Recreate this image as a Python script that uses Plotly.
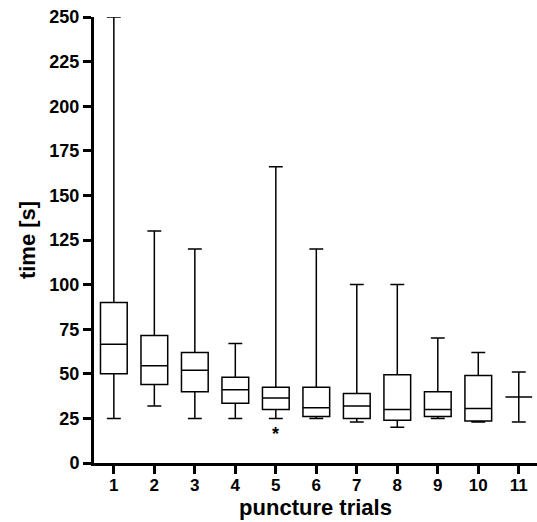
import plotly.graph_objects as go

trials = [1, 2, 3, 4, 5, 6, 7, 8, 9, 10, 11]
q1 = [50, 44, 40, 33.5, 30, 26, 25, 24, 26, 23.5, 37]
median = [66.5, 54.5, 52, 41, 36.5, 31, 32, 30, 30, 30.5, 37]
q3 = [90, 71.5, 62, 48, 42.5, 42.5, 39, 49.5, 40, 49, 37]
lower = [25, 32, 25, 25, 25, 25, 23, 20, 25, 23, 23]
upper = [250, 130, 120, 67, 166, 120, 100, 100, 70, 62, 51]
star_trial = 5
star_value = 16.5
ytick_vals = [0, 25, 50, 75, 100, 125, 150, 175, 200, 225, 250]

FONT = "Liberation Sans, Arial, Helvetica, sans-serif"

fig = go.Figure()
fig.add_trace(go.Box(
    x=trials, q1=q1, median=median, q3=q3,
    lowerfence=lower, upperfence=upper,
    width=0.66, whiskerwidth=0.52,
    fillcolor="white", line=dict(color="black", width=1.5),
    boxpoints=False, hoverinfo="skip", showlegend=False,
))

fig.add_annotation(x=star_trial, y=star_value, text="<b>*</b>", showarrow=False,
                   font=dict(family=FONT, size=18, color="black"),
                   xanchor="center", yanchor="middle")

fig.update_layout(
    width=537, height=522,
    margin=dict(l=94, r=0, t=17, b=59),
    paper_bgcolor="white", plot_bgcolor="white",
    font=dict(family=FONT, color="black"),
)
fig.update_xaxes(
    range=[0.51, 11.45], tickvals=trials,
    ticktext=[f"<b>{t}</b>" for t in trials],
    tickfont=dict(size=17, family=FONT), ticklabelstandoff=-3,
    showline=True, linecolor="black", linewidth=3,
    ticks="outside", ticklen=8, tickwidth=3, tickcolor="black",
    showgrid=False, zeroline=False, automargin=False,
    title=dict(text="<b>puncture trials</b>", font=dict(size=22, family=FONT), standoff=6),
)
fig.update_yaxes(
    range=[0, 250], tickvals=ytick_vals,
    ticktext=[f"<b>{v}</b>" for v in ytick_vals],
    tickfont=dict(size=18, family=FONT),
    showline=True, linecolor="black", linewidth=3,
    ticks="outside", ticklen=8, tickwidth=3, tickcolor="black",
    showgrid=False, zeroline=False, automargin=False,
    title=dict(text="<b>time [s]</b>", font=dict(size=22, family=FONT), standoff=8),
)

fig.write_html("out.html", config={"displayModeBar": False},
               post_script="document.body.style.margin='0';document.body.style.padding='0';")
